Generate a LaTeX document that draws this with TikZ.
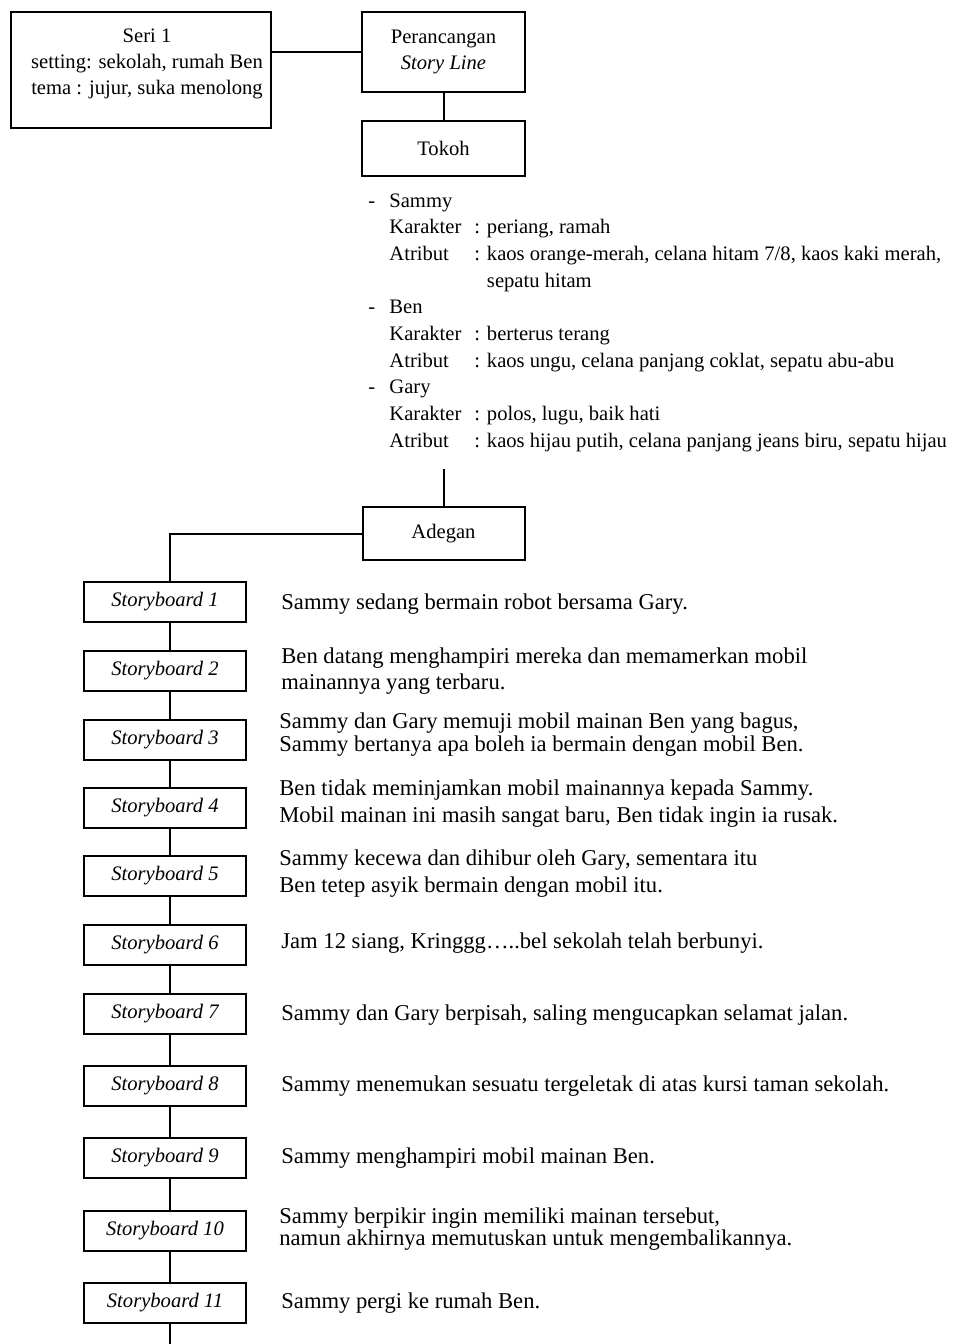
\documentclass[tikz,border=0pt]{standalone}
\usepackage{fontspec}
\setmainfont{Liberation Serif}
\usetikzlibrary{positioning}

\newcommand{\boxfont}{\fontsize{10.3}{13}\selectfont}
\newcommand{\descfont}{\fontsize{11.3}{13.3}\selectfont}
\newcommand{\castfont}{\fontsize{10.3}{13.33}\selectfont}

\tikzset{
  box/.style={draw, line width=1pt, inner sep=0pt, align=center, font=\boxfont},
  sbbox/.style={box, minimum width=81pt, minimum height=20pt, font=\boxfont\itshape},
  desc/.style={inner sep=0pt, align=left, font=\descfont},
  desctight/.style={desc, font=\fontsize{11.3}{11.4}\selectfont},
  link/.style={line width=1pt},
}

\begin{document}
\begin{tikzpicture}[x=0.5pt, y=-0.5pt]
  \useasboundingbox (0,0) rectangle (956,1344);

  % header
  \node[box, minimum width=130pt, minimum height=58pt] (seri) at (141,70) {};
  \node[inner sep=0pt, align=center, font=\boxfont, anchor=north] (seritext)
    at ([xshift=3pt, yshift=-8.7pt]seri.north)
    {Seri 1\\setting: sekolah, rumah Ben\\tema : jujur, suka menolong};
  \node[box, minimum width=81.5pt, minimum height=40pt] (rancang) at (443.5,52)
    {Perancangan\\\textit{Story Line}};
  \node[box, minimum width=81.5pt, minimum height=27.5pt] (tokoh) at (443.5,148.5) {Tokoh};

  \draw[link] (rancang.west) -- (rancang.west -| seri.east);
  \draw[link] (rancang) -- (tokoh);

  % tokoh
  \node[inner sep=0pt, anchor=north west, font=\castfont] (cast) at (368,188) {%
    \begin{tabular}{@{}p{10.5pt}@{}p{42.5pt}@{}l@{}}
      - & \multicolumn{2}{@{}l@{}}{Sammy}\\
        & Karakter & : periang, ramah\\
        & Atribut  & : kaos orange-merah, celana hitam 7/8, kaos kaki merah,\\
        &          & \phantom{: }sepatu hitam\\
      - & \multicolumn{2}{@{}l@{}}{Ben}\\
        & Karakter & : berterus terang\\
        & Atribut  & : kaos ungu, celana panjang coklat, sepatu abu-abu\\
      - & \multicolumn{2}{@{}l@{}}{Gary}\\
        & Karakter & : polos, lugu, baik hati\\
        & Atribut  & : kaos hijau putih, celana panjang jeans biru, sepatu hijau\\
    \end{tabular}};

  \node[box, minimum width=81pt, minimum height=26.5pt] (adegan) at (443.5,533.5) {Adegan};
  \coordinate (castend) at (443.5,469);
  \draw[link] (castend) -- (castend |- adegan.north);

  % storyboard
  \foreach \i/\y in {1/602, 2/671, 3/740, 4/807.5, 5/876, 6/944.5,
                     7/1014, 8/1086, 9/1158, 10/1231, 11/1303}
    \node[sbbox] (sb\i) at (165,\y) {Storyboard \i};

  \draw[link] (adegan.west) -| ([xshift=2.3pt]sb1.north);
  \foreach \i/\j in {1/2, 2/3, 3/4, 4/5, 5/6, 6/7, 7/8, 8/9, 9/10, 10/11}
    \draw[link] ([xshift=2.3pt]sb\i.south) -- ([xshift=2.3pt]sb\j.north);
  \coordinate (tail) at (169.6,1344);
  \draw[link] ([xshift=2.3pt]sb11.south) -- (tail);

  \node[desc, right=17pt of sb1, yshift=-1pt] (d1) {Sammy sedang bermain robot bersama Gary.};
  \node[desc, right=17pt of sb2] (d2) {Ben datang menghampiri mereka dan memamerkan mobil\\mainannya yang terbaru.};
  \node[desctight, right=16pt of sb3, yshift=2.7pt] (d3) {Sammy dan Gary memuji mobil mainan Ben yang bagus,\\Sammy bertanya apa boleh ia bermain dengan mobil Ben.};
  \node[desc, right=16pt of sb4, yshift=2pt] (d4) {Ben tidak meminjamkan mobil mainannya kepada Sammy.\\Mobil mainan ini masih sangat baru, Ben tidak ingin ia rusak.};
  \node[desc, right=16pt of sb5, yshift=1.2pt] (d5) {Sammy kecewa dan dihibur oleh Gary, sementara itu\\Ben tetep asyik bermain dengan mobil itu.};
  \node[desc, right=17pt of sb6, yshift=0.5pt] (d6) {Jam 12 siang, Kringgg\dots..bel sekolah telah berbunyi.};
  \node[desc, right=17pt of sb7, yshift=-0.5pt] (d7) {Sammy dan Gary berpisah, saling mengucapkan selamat jalan.};
  \node[desc, right=17pt of sb8] (d8) {Sammy menemukan sesuatu tergeletak di atas kursi taman sekolah.};
  \node[desc, right=17pt of sb9] (d9) {Sammy menghampiri mobil mainan Ben.};
  \node[desctight, right=16pt of sb10, yshift=1pt] (d10) {Sammy berpikir ingin memiliki mainan tersebut,\\namun akhirnya memutuskan untuk mengembalikannya.};
  \node[desc, right=17pt of sb11] (d11) {Sammy pergi ke rumah Ben.};
\end{tikzpicture}
\end{document}
